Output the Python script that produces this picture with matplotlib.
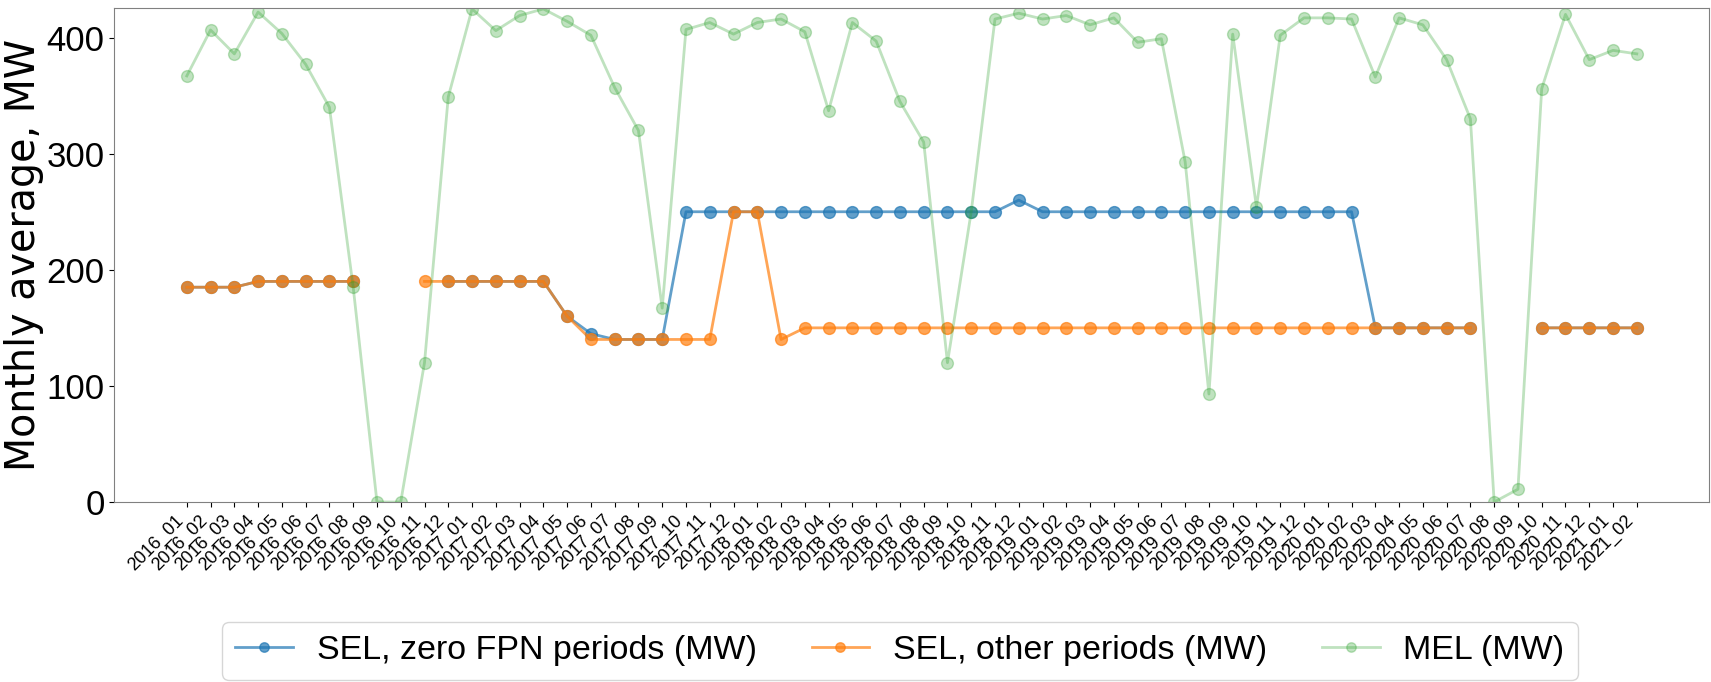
import numpy as np
import matplotlib
matplotlib.use("Agg")
import matplotlib.pyplot as plt
from matplotlib import font_manager

nan = np.nan

months = []
for y in range(2016, 2022):
    for m in range(1, 13):
        months.append(f"{y}_{m:02d}")
months = months[:months.index("2021_02") + 1]

sel_zero_fpn = [185, 185, 185, 190, 190, 190, 190, 190, nan, nan, nan,
                190, 190, 190, 190, 190, 160, 145, 140, 140, 140,
                250, 250, 250, 250, 250, 250, 250, 250, 250, 250, 250, 250, 250, 250,
                260,
                250, 250, 250, 250, 250, 250, 250, 250, 250, 250, 250, 250, 250, 250,
                150, 150, 150, 150, 150, nan, nan, 150, 150, 150, 150, 150]

sel_other = [185, 185, 185, 190, 190, 190, 190, 190, nan, nan, 190,
             190, 190, 190, 190, 190, 160, 140, 140, 140, 140,
             140, 140, 250, 250, 140,
             150, 150, 150, 150, 150, 150, 150, 150, 150, 150, 150, 150, 150, 150,
             150, 150, 150, 150, 150, 150, 150, 150, 150, 150, 150, 150, 150, 150,
             150, nan, nan, 150, 150, 150, 150, 150]

mel = [367, 406.6, 386, 422, 403.5, 377, 340, 185, 0, 0, 120, 349,
       424.7, 406, 419, 424.7, 414, 402, 357, 320, 167, 407, 413, 403,
       413, 416, 405, 337, 413, 397, 345, 310, 120, 250, 416, 421,
       416, 419, 411, 417, 396, 399, 293, 93, 403, 254, 402, 417,
       417, 416, 366, 417, 411, 381, 330, 0, 11, 356, 420, 381,
       389, 386]

series_labels = ["SEL, zero FPN periods (MW)", "SEL, other periods (MW)", "MEL (MW)"]

installed = {f.name for f in font_manager.fontManager.ttflist}
narrow = "Liberation Sans" if "Liberation Sans" in installed else "DejaVu Sans"

W, H = 1711, 682
fig = plt.figure(figsize=(W / 100, H / 100), dpi=100)
ax = fig.add_axes([114.3 / W, 1 - 502 / H, (1709.3 - 114.3) / W, (502 - 8) / H])

x = np.arange(len(months))
ax.plot(x, sel_zero_fpn, marker="o", color="C0", alpha=0.7, lw=2, ms=8.5, label=series_labels[0])
ax.plot(x, sel_other, marker="o", color="C1", alpha=0.7, lw=2, ms=8.5, label=series_labels[1])
ax.plot(x, mel, marker="o", color="C2", alpha=0.3, lw=2, ms=8.5, label=series_labels[2])

ax.set_xlim(-3.05, 64.05)
ax.set_ylim(0, 425.5)
ax.set_xticks(x)
ax.set_xticklabels(months, rotation=45, ha="right", fontsize=13, family=narrow)
ax.set_yticks([0, 100, 200, 300, 400])
ax.set_yticklabels(["0", "100", "200", "300", "400"], fontsize=25, family=narrow)
ax.set_ylabel("Monthly average, MW", fontsize=28.5, family="DejaVu Sans")
ax.yaxis.set_label_coords((44 - 114.3) / 1595, 0.5)
for s in ax.spines.values():
    s.set_color("#808080")

leg = fig.legend(loc="upper center", bbox_to_anchor=(900 / W, 1 - 621.7 / H), ncol=3,
                 prop={"size": 24.5, "family": narrow}, markerscale=0.8,
                 borderaxespad=0, columnspacing=1.6, handlelength=1.7, handletextpad=0.7)

fig.savefig("out.png", dpi=100)
